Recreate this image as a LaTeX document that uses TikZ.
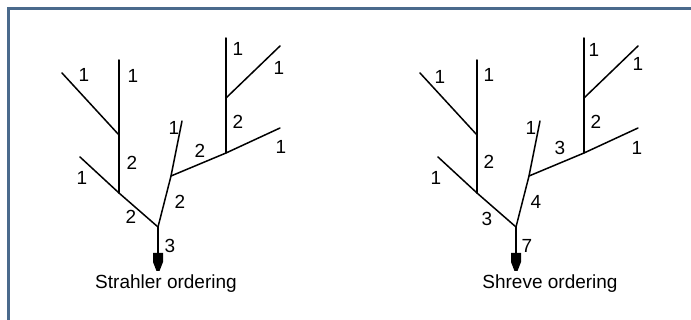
\documentclass[tikz,border=0pt]{standalone}
\usepackage{fontspec}
\setmainfont{Liberation Sans}
\definecolor{framec}{HTML}{4A6A8C}
\tikzset{
  river/.style={line width=1.5pt, line cap=round},
  lbl/.style={inner sep=0pt, font=\fontsize{19}{19}\selectfont},
  captext/.style={inner sep=0pt, anchor=base, font=\fontsize{19}{19}\selectfont},
}
\newcommand{\drawtree}[2]{%
  \begin{scope}[xshift=#1pt]
    \coordinate (#2A) at (62,73);
    \coordinate (#2B) at (119,135);
    \coordinate (#2C) at (119,60);
    \coordinate (#2D) at (119,193);
    \coordinate (#2E) at (80,157);
    \coordinate (#2F) at (158,227);
    \coordinate (#2G) at (158,253);
    \coordinate (#2H) at (171,176);
    \coordinate (#2I) at (182,121);
    \coordinate (#2J) at (226,153);
    \coordinate (#2K) at (280,128);
    \coordinate (#2L) at (226,38);
    \coordinate (#2M) at (226,98);
    \coordinate (#2N) at (280,46);
    \draw[river] (#2A) -- (#2B);
    \draw[river] (#2C) -- (#2D);
    \draw[river] (#2E) -- (#2D) -- (#2F);
    \draw[river] (#2F) -- (#2H) -- (#2I);
    \draw[river] (#2H) -- (#2J) -- (#2K);
    \draw[river] (#2L) -- (#2J);
    \draw[river] (#2M) -- (#2N);
    \draw[river] (#2F) -- (#2G);
    \fill ([xshift=-5pt]#2G) -- ([xshift=5pt]#2G) -- ([xshift=5pt,yshift=-9pt]#2G)
      -- ([xshift=1.5pt,yshift=-18pt]#2G) -- ([xshift=-1.5pt,yshift=-18pt]#2G)
      -- ([xshift=-5pt,yshift=-9pt]#2G) -- cycle;
  \end{scope}}
\begin{document}
\begin{tikzpicture}[x=1pt,y=-1pt]
  \useasboundingbox (0,0) rectangle (691,320);
  \fill[white] (0,0) rectangle (691,320);
  \draw[framec, line width=3pt] (8.5,320) -- (8.5,8.5) -- (691,8.5);
  % left tree: Strahler
  \drawtree{0}{s}
  \node[lbl] (s1) at (84,75) {1};
  \node[lbl] (s2) at (133,76) {1};
  \node[lbl] (s3) at (132,163) {2};
  \node[lbl] (s4) at (82,178) {1};
  \node[lbl] (s5) at (131,217) {2};
  \node[lbl] (s6) at (180,202) {2};
  \node[lbl] (s7) at (170,246) {3};
  \node[lbl] (s8) at (174,128) {1};
  \node[lbl] (s9) at (200,151) {2};
  \node[lbl] (s10) at (238,49) {1};
  \node[lbl] (s11) at (279,68) {1};
  \node[lbl] (s12) at (238,122) {2};
  \node[lbl] (s13) at (281,147) {1};
  \node[captext] (scap) at (166,289) {Strahler ordering};
  % right tree: Shreve
  \drawtree{358}{r}
  \node[lbl] (r1) at (440,77) {1};
  \node[lbl] (r2) at (489,75) {1};
  \node[lbl] (r3) at (489,162) {2};
  \node[lbl] (r4) at (436,178) {1};
  \node[lbl] (r5) at (487,219) {3};
  \node[lbl] (r6) at (536,202) {4};
  \node[lbl] (r7) at (527,246) {7};
  \node[lbl] (r8) at (531,128) {1};
  \node[lbl] (r9) at (560,148) {3};
  \node[lbl] (r10) at (594,50) {1};
  \node[lbl] (r11) at (638,64) {1};
  \node[lbl] (r12) at (596,122) {2};
  \node[lbl] (r13) at (637,148) {1};
  \node[captext] (rcap) at (550,289) {Shreve ordering};
\end{tikzpicture}
\end{document}
